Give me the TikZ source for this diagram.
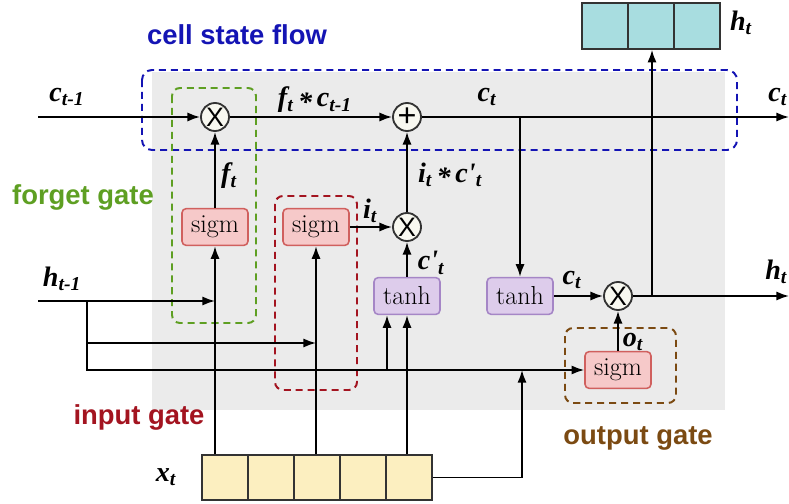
\documentclass[tikz,border=0pt]{standalone}
\usepackage{fontspec}
\newfontfamily\sansb{Liberation Sans}
\newfontfamily\serifb{Liberation Serif}
\usetikzlibrary{arrows.meta}

\definecolor{bgfill}{HTML}{EBEBEB}
\definecolor{sigmfill}{HTML}{F6C9C9}
\definecolor{sigmline}{HTML}{D0605E}
\definecolor{tanhfill}{HTML}{DDCCEB}
\definecolor{tanhline}{HTML}{A586C6}
\definecolor{htfill}{HTML}{A8DDE0}
\definecolor{xtfill}{HTML}{FCEFC0}
\definecolor{opfill}{HTML}{F8F8F0}
\definecolor{flowblue}{HTML}{1414B4}
\definecolor{forgetgreen}{HTML}{5E9F22}
\definecolor{inputred}{HTML}{A31420}
\definecolor{outputbrown}{HTML}{7B4A12}

\begin{document}
\begin{tikzpicture}[x=0.025cm, y=-0.025cm, line width=1.3pt,
    every node/.style={font=\fontsize{18.5}{20}\selectfont},
    arr/.style={-{Latex[length=9pt,width=6.5pt]}},
    sigmbox/.style={draw=sigmline, fill=sigmfill, rounded corners=3pt, line width=1.1pt,
        minimum width=1.65cm, minimum height=0.92cm, inner sep=0pt},
    tanhbox/.style={sigmbox, draw=tanhline, fill=tanhfill},
    opnode/.style={circle, draw=black!80, fill=opfill, minimum size=0.7cm, inner sep=0pt,
        font=\fontsize{19}{19}\sansb},
    vec/.style={draw=black!80, line width=1.1pt, inner sep=0pt},
    lbl/.style={font=\fontsize{20}{22}\serifb\bfseries\itshape, inner sep=0pt},
    gatetitle/.style={font=\fontsize{19.5}{21}\sansb\bfseries, inner sep=0pt},
    gatebox/.style={dashed, dash pattern=on 5pt off 3.5pt, line width=1.4pt, rounded corners=0.2cm}]
    \useasboundingbox (0,0) rectangle (789,504);

    % Фон ячейки
    \fill[bgfill] (152,72) rectangle (725,410);

    % Пунктирные рамки
    \draw[gatebox, draw=flowblue, rounded corners=0.25cm] (142,70) rectangle (737,150);
    \draw[gatebox, draw=forgetgreen] (172,88) rectangle (256,323);
    \draw[gatebox, draw=inputred] (275,196) rectangle (357,390);
    \draw[gatebox, draw=outputbrown] (565,328) rectangle (676,403);

    \node[gatetitle, text=flowblue] (tflow) at (237,35) {cell state flow};
    \node[gatetitle, text=forgetgreen] (tforget) at (83,197) {forget gate};
    \node[gatetitle, text=inputred] (tinput) at (139,417) {input gate};
    \node[gatetitle, text=outputbrown] (toutput) at (638,438) {output gate};

    % Операции
    \node[opnode] (fmul) at (215,117) {X};
    \node[opnode, font=\fontsize{23}{23}\sansb] (add) at (407,117) {+};
    \node[opnode] (imul) at (407,227) {X};
    \node[opnode] (omul) at (618,296) {X};

    \node[sigmbox] (fsig) at (215,227) {sigm};
    \node[sigmbox] (isig) at (316,227) {sigm};
    \node[sigmbox] (osig) at (618,370) {sigm};
    \node[tanhbox] (tanha) at (407,296) {tanh};
    \node[tanhbox] (tanhb) at (520,296) {tanh};

    % Векторы h_t и x_t
    \node[vec, fill=htfill, minimum width=3.45cm, minimum height=1.15cm] (ht) at (651,26) {};
    \foreach \x in {628,674} \draw[line width=1.1pt, black!80] (\x,3) -- (\x,49);
    \node[vec, fill=xtfill, minimum width=5.75cm, minimum height=1.125cm] (xt) at (317,477.5) {};
    \foreach \x in {248,294,340,386} \draw[line width=1.1pt, black!80] (\x,455) -- (\x,500);

    \coordinate (cin) at (38,117);
    \coordinate (cout) at (789,117);
    \coordinate (cbr) at (520,117);
    \coordinate (hin) at (38,301);
    \coordinate (hsplit) at (87,301);
    \coordinate (hmid) at (87,343);
    \coordinate (tj) at (387,370);
    \coordinate (xj) at (522,370);
    \coordinate (hbr) at (652,296);
    \coordinate (hout) at (789,296);

    % Поток состояния
    \draw[arr] (cin) -- (fmul);
    \draw[arr] (fmul) -- (add);
    \draw[arr] (add) -- (cout);
    \draw[arr] (cbr) -- (tanhb.north);
    \draw[arr] (tanhb) -- (omul);
    \draw[arr] (omul) -- (hout);
    \draw[arr] (hbr) -- (hbr |- ht.south);

    % Вентили
    \draw[arr] (fsig) -- (fmul);
    \draw[arr] (isig) -- (imul);
    \draw[arr] (imul) -- (add);
    \draw[arr] (tanha) -- (imul);
    \draw[arr] (osig) -- (omul);

    % Входы h_{t-1} и x_t
    \draw[arr] (hin) -- (fsig.south |- hin);
    \draw[arr] (hsplit) |- (osig.west);
    \draw[arr] (hmid) -- (isig.south |- hmid);
    \draw[arr] (tj) -- (tj |- tanha.south);
    \draw[arr] (fsig.south |- xt.north) -- (fsig.south);
    \draw[arr] (isig.south |- xt.north) -- (isig.south);
    \draw[arr] (tanha.south |- xt.north) -- (tanha.south);
    \draw[arr] (xt.east) -| (xj);

    % Подписи
    \node[lbl] (lcprev) at (67,97) {c\textsubscript{t-1}};
    \node[lbl] (lfc) at (315,100) {f\textsubscript{t}\,\raisebox{-0.35ex}{*}\,c\textsubscript{t-1}};
    \node[lbl] (lct) at (487,97) {c\textsubscript{t}};
    \node[lbl, anchor=east] (lcnext) at (788,97) {c\textsubscript{t}};
    \node[lbl] (lft) at (229,176) {f\textsubscript{t}};
    \node[lbl] (lit) at (370,211) {i\textsubscript{t}};
    \node[lbl] (lic) at (450,175) {i\textsubscript{t}\,\raisebox{-0.35ex}{*}\,c'\textsubscript{t}};
    \node[lbl] (lcc) at (431,263) {c'\textsubscript{t}};
    \node[lbl] (lct2) at (572,280) {c\textsubscript{t}};
    \node[lbl] (lot) at (633,342) {o\textsubscript{t}};
    \node[lbl] (lhprev) at (62,279) {h\textsubscript{t-1}};
    \node[lbl, anchor=east] (lhnext) at (788,272) {h\textsubscript{t}};
    \node[lbl] (lhtop) at (741,23) {h\textsubscript{t}};
    \node[lbl] (lxt) at (166,477) {x\textsubscript{t}};
\end{tikzpicture}
\end{document}
